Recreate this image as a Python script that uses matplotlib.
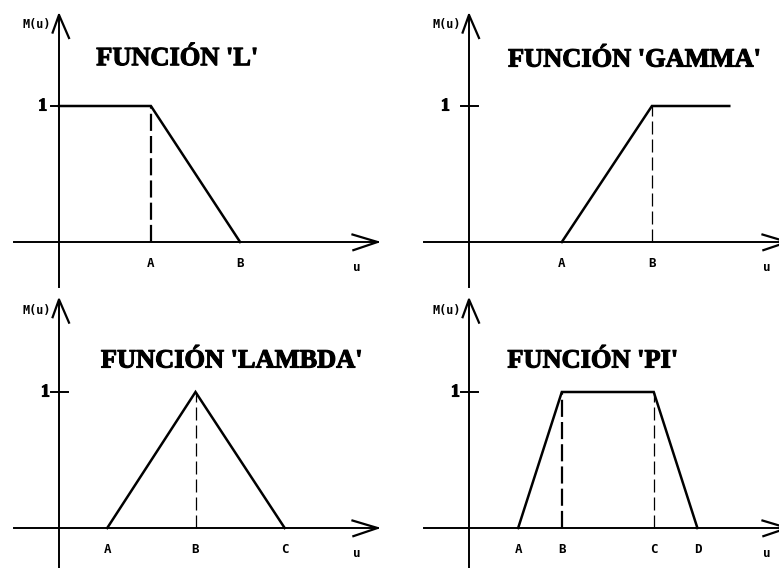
import matplotlib
matplotlib.use("Agg")
import matplotlib.pyplot as plt
import matplotlib.patheffects as pe

W, H = 779, 568          # output size in pixels
SX, SY = 91.0, 136.0     # pixels per unit of u and per unit of M(u)

# ---------------------------------------------------------------
# membership functions (u, M(u))
# ---------------------------------------------------------------
L_u = [0.0, 1.01, 1.99]
L_m = [1, 1, 0]

GAMMA_u = [1.02, 2.01, 2.86]
GAMMA_m = [0, 1, 1]

LAMBDA_u = [0.53, 1.50, 2.48]
LAMBDA_m = [0, 1, 0]

PI_u = [0.54, 1.02, 2.03, 2.51]
PI_m = [0, 1, 1, 0]

titles = ["FUNCIÓN 'L'", "FUNCIÓN 'GAMMA'", "FUNCIÓN 'LAMBDA'", "FUNCIÓN 'PI'"]
point_labels = [["A", "B"], ["A", "B"], ["A", "B", "C"], ["A", "B", "C", "D"]]
label_u = [[1.01, 1.99], [1.02, 2.01], [0.53, 1.50, 2.48], [0.54, 1.02, 2.03, 2.51]]
# dashed drop lines: (u, thick?)
drops = [[(1.01, True)], [(2.01, False)], [(1.50, False)], [(1.02, True), (2.03, False)]]
curves = [(L_u, L_m), (GAMMA_u, GAMMA_m), (LAMBDA_u, LAMBDA_m), (PI_u, PI_m)]

# layout of each panel: origin in pixels, title centre/baseline, "1" label, y-axis span
origins = [(59, 242), (469, 242), (59, 528), (469, 528)]
title_pos = [(1.30, 1.30), (1.82, 1.29), (1.90, 1.18), (1.36, 1.18)]
one_u = [-0.13, -0.21, -0.10, -0.10]
yaxis_span = [(-0.33, 1.67), (-0.33, 1.67), (-0.35, 1.68), (-0.35, 1.68)]

fig = plt.figure(figsize=(W / 100, H / 100), dpi=100)
fig.patch.set_facecolor("white")

mono = "DejaVu Sans Mono"
serif = "Liberation Serif"
heavy = [pe.withStroke(linewidth=0.8, foreground="black")]

for i in range(4):
    ox, oy = origins[i]
    ax = fig.add_axes([0, 0, 1, 1])
    ax.set_xlim(-ox / SX, (W - ox) / SX)
    ax.set_ylim(-(H - oy) / SY, oy / SY)
    ax.axis("off")
    ax.patch.set_alpha(0)

    # x axis with open arrow head
    tip_u = 3.5
    ax.plot([-0.5, tip_u], [0, 0], color="black", lw=1.4, clip_on=False)
    ax.plot([tip_u - 0.275, tip_u, tip_u - 0.265], [0.055, 0, -0.06],
            color="black", lw=1.6, clip_on=False)

    # y axis with open arrow head
    y0, y1 = yaxis_span[i]
    ax.plot([0, 0], [y0, y1], color="black", lw=1.4, clip_on=False)
    ax.plot([-0.07, 0, 0.11], [y1 - 0.13, y1, y1 - 0.17],
            color="black", lw=1.6, clip_on=False)

    # tick at 1
    ax.plot([-0.09, 0.1], [1, 1], color="black", lw=1.4)
    ax.text(one_u[i], 1, "1", fontsize=13, fontweight="bold", family=serif,
            ha="right", va="center", path_effects=heavy)
    ax.text(-0.09, 1.60, "M(u)", fontsize=8.5, fontweight="bold", family=mono,
            ha="right", va="center")
    ax.text(3.27, -0.19, "u", fontsize=9, fontweight="bold", family=mono,
            ha="center", va="center")

    # membership function
    cu, cm = curves[i]
    ax.plot(cu, cm, color="black", lw=1.8, solid_joinstyle="miter")

    # dashed drop lines
    for du, thick in drops[i]:
        if thick:
            ax.plot([du, du], [0, 1], color="black", lw=1.6,
                    linestyle=(0, (7.7, 2.3)))
        else:
            ax.plot([du, du], [0, 1], color="black", lw=0.9,
                    linestyle=(0, (10.4, 4.0)))

    for name, pu in zip(point_labels[i], label_u[i]):
        ax.text(pu, -0.155, name, fontsize=9, fontweight="bold", family=mono,
                ha="center", va="center")

    tx, ty = title_pos[i]
    ax.text(tx, ty, titles[i], fontsize=19, fontweight="bold", family=serif,
            ha="center", va="baseline", path_effects=heavy)

plt.savefig("out.png", dpi=100, facecolor="white")
plt.close()
